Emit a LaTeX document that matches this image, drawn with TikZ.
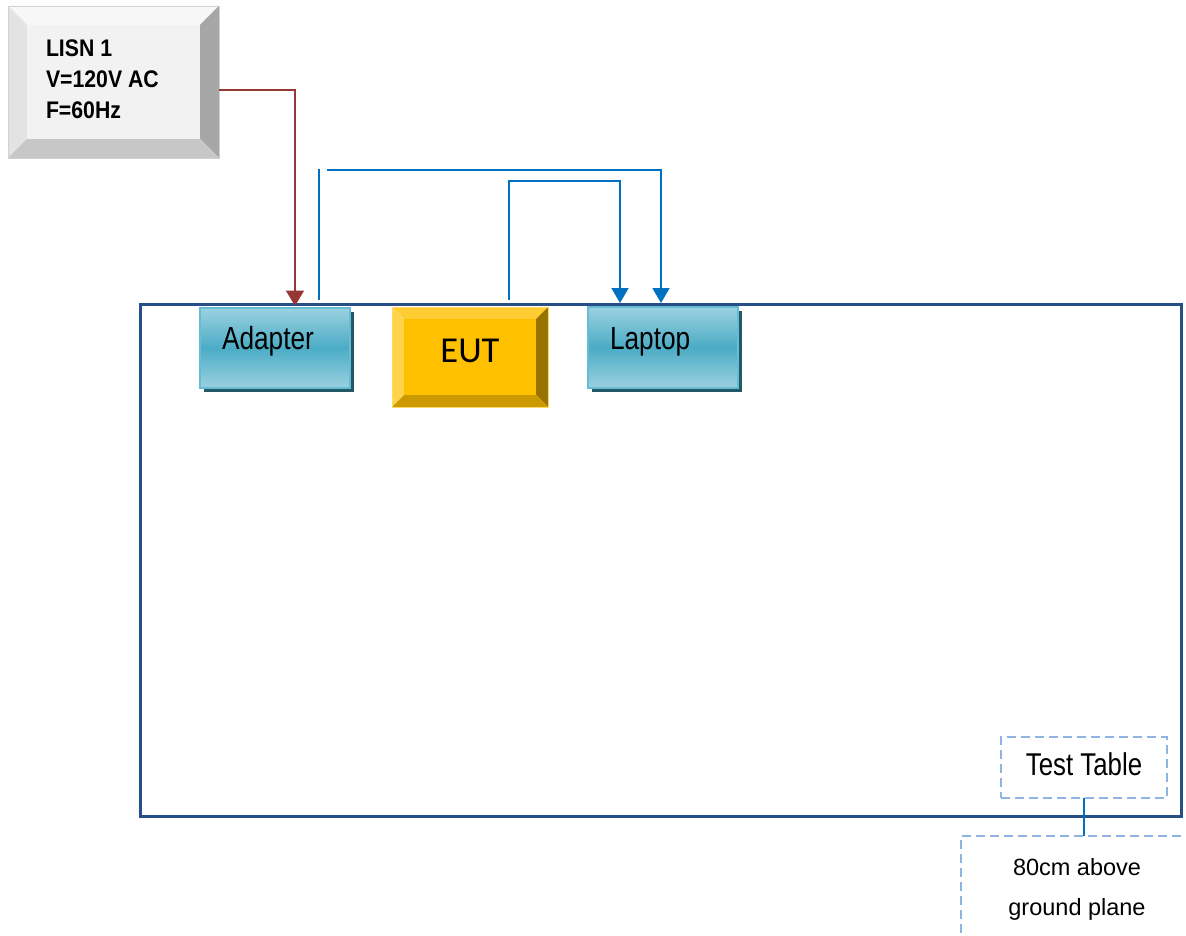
\documentclass[tikz,border=0pt]{standalone}
\usepackage{fontspec}
\setmainfont{Liberation Sans}
\newfontfamily\eutfont{Carlito}
\usetikzlibrary{calc,arrows.meta,shadows}
\definecolor{tblue}{HTML}{264F87}
\definecolor{wire}{HTML}{0070C0}
\definecolor{pwr}{HTML}{953735}
\definecolor{dashb}{HTML}{8DB4E2}
\definecolor{teal}{HTML}{4BACC6}
\definecolor{teall}{HTML}{9BD1E0}
\definecolor{tealb}{HTML}{66BCD2}
\definecolor{tealdk}{HTML}{215967}
\definecolor{gold}{HTML}{FFC000}
\newcommand{\narrow}[2]{\scalebox{#1}[1]{#2}}
\tikzset{
  wireline/.style={wire, line width=1.8pt},
  wirearrow/.style={wireline, -{Triangle[width=17pt,length=15pt]}},
  pwrarrow/.style={pwr, line width=1.6pt, -{Triangle[width=18pt,length=15.5pt]}},
  devbox/.style={rectangle, inner sep=0pt, outer sep=0pt, draw=tealb, line width=1.5pt,
    top color=teall, bottom color=teall, middle color=teal,
    drop shadow={shadow xshift=4pt, shadow yshift=-4pt, fill=tealdk, opacity=1},
    minimum width=150pt, text width=106pt, align=left,
    font=\fontsize{32}{36}\selectfont, text height=20pt, text depth=17pt},
  dashbox/.style={rectangle, inner sep=0pt, outer sep=0pt, draw=dashb, line width=1.5pt,
    dash pattern=on 9pt off 5pt},
  plainbox/.style={rectangle, inner sep=0pt, outer sep=0pt},
}
\begin{document}
\begin{tikzpicture}[x=1pt,y=-1pt]
\useasboundingbox[fill=white] (0,0) rectangle (1186,936);

% test table
\node[plainbox, draw=tblue, line width=3pt, minimum width=1041pt, minimum height=512pt] (table) at (660.5,560) {};

% LISN bevel box
\node[plainbox, draw=black!18, line width=0.8pt, minimum width=211pt, minimum height=152pt] (lisn) at (113.5,82) {};
\fill[black!3] (lisn.north west) -- (lisn.north east) -- ($(lisn.north east)+(-19,19)$) -- ($(lisn.north west)+(19,19)$) -- cycle;
\fill[black!11] (lisn.north west) -- ($(lisn.north west)+(19,19)$) -- ($(lisn.south west)+(19,-19)$) -- (lisn.south west) -- cycle;
\fill[black!35] (lisn.north east) -- (lisn.south east) -- ($(lisn.south east)+(-19,-19)$) -- ($(lisn.north east)+(-19,19)$) -- cycle;
\fill[black!22] (lisn.south west) -- (lisn.south east) -- ($(lisn.south east)+(-19,-19)$) -- ($(lisn.south west)+(19,-19)$) -- cycle;
\fill[black!5] ($(lisn.north west)+(19,19)$) rectangle ($(lisn.south east)+(-19,-19)$);
\draw[black!18, line width=0.8pt] (lisn.north west) rectangle (lisn.south east);
\node[plainbox, anchor=west, align=left, font=\bfseries\fontsize{24}{31}\selectfont] (lisntxt) at (46,79.7)
  {\narrow{0.885}{LISN 1}\\\narrow{0.885}{V=120V AC}\\\narrow{0.885}{F=60Hz}};

% Adapter and Laptop
\node[devbox, minimum height=80pt] (adapter) at (275,348) {\narrow{0.82}{Adapter}};
\node[devbox, minimum height=81pt] (laptop) at (663,347.5) {\narrow{0.82}{Laptop}};

% EUT bevel box
\node[plainbox, minimum width=156pt, minimum height=100pt] (eut) at (470,357) {};
\fill[gold!80!white] (eut.north west) -- (eut.north east) -- ($(eut.north east)+(-12,12)$) -- ($(eut.north west)+(12,12)$) -- cycle;
\fill[gold!70!white] (eut.north west) -- ($(eut.north west)+(12,12)$) -- ($(eut.south west)+(12,-12)$) -- (eut.south west) -- cycle;
\fill[gold!60!black] (eut.north east) -- (eut.south east) -- ($(eut.south east)+(-12,-12)$) -- ($(eut.north east)+(-12,12)$) -- cycle;
\fill[gold!80!black] (eut.south west) -- (eut.south east) -- ($(eut.south east)+(-12,-12)$) -- ($(eut.south west)+(12,-12)$) -- cycle;
\fill[gold] ($(eut.north west)+(12,12)$) rectangle ($(eut.south east)+(-12,-12)$);
\draw[gold!60!white, line width=1pt] (eut.north west) rectangle (eut.south east);
\node[plainbox, font=\eutfont\fontsize{36.5}{40}\selectfont, text height=21pt, text depth=9.5pt] (euttxt) at (eut.center) {EUT};

% connectors
\draw[pwrarrow] ($(lisn.east)+(0,8)$) -| ($(adapter.north)+(20,-2)$);
\draw[wireline] ($(adapter.north)+(44,-8)$) -- ++(0,-131);
\draw[wirearrow] ($(adapter.north)+(52,-138)$) -| ($(laptop.north)+(-2,-4)$);
\draw[wirearrow] ($(eut.north)+(39,-7)$) -- ++(0,-119) -| ($(laptop.north)+(-43,-4)$);

% labels
\node[dashbox, minimum width=166pt, minimum height=61pt, font=\fontsize{31.5}{34}\selectfont, text height=22.5pt, text depth=6pt] (tt) at (1084,767.5) {\narrow{0.82}{Test Table}};
\node[dashbox, minimum width=232pt, minimum height=106pt, align=center, font=\fontsize{23.5}{40}\selectfont] (gp) at (1077,889) {80cm above\\ground plane};
\draw[wireline] (tt.south) -- (tt.south |- gp.north);
\end{tikzpicture}
\end{document}
